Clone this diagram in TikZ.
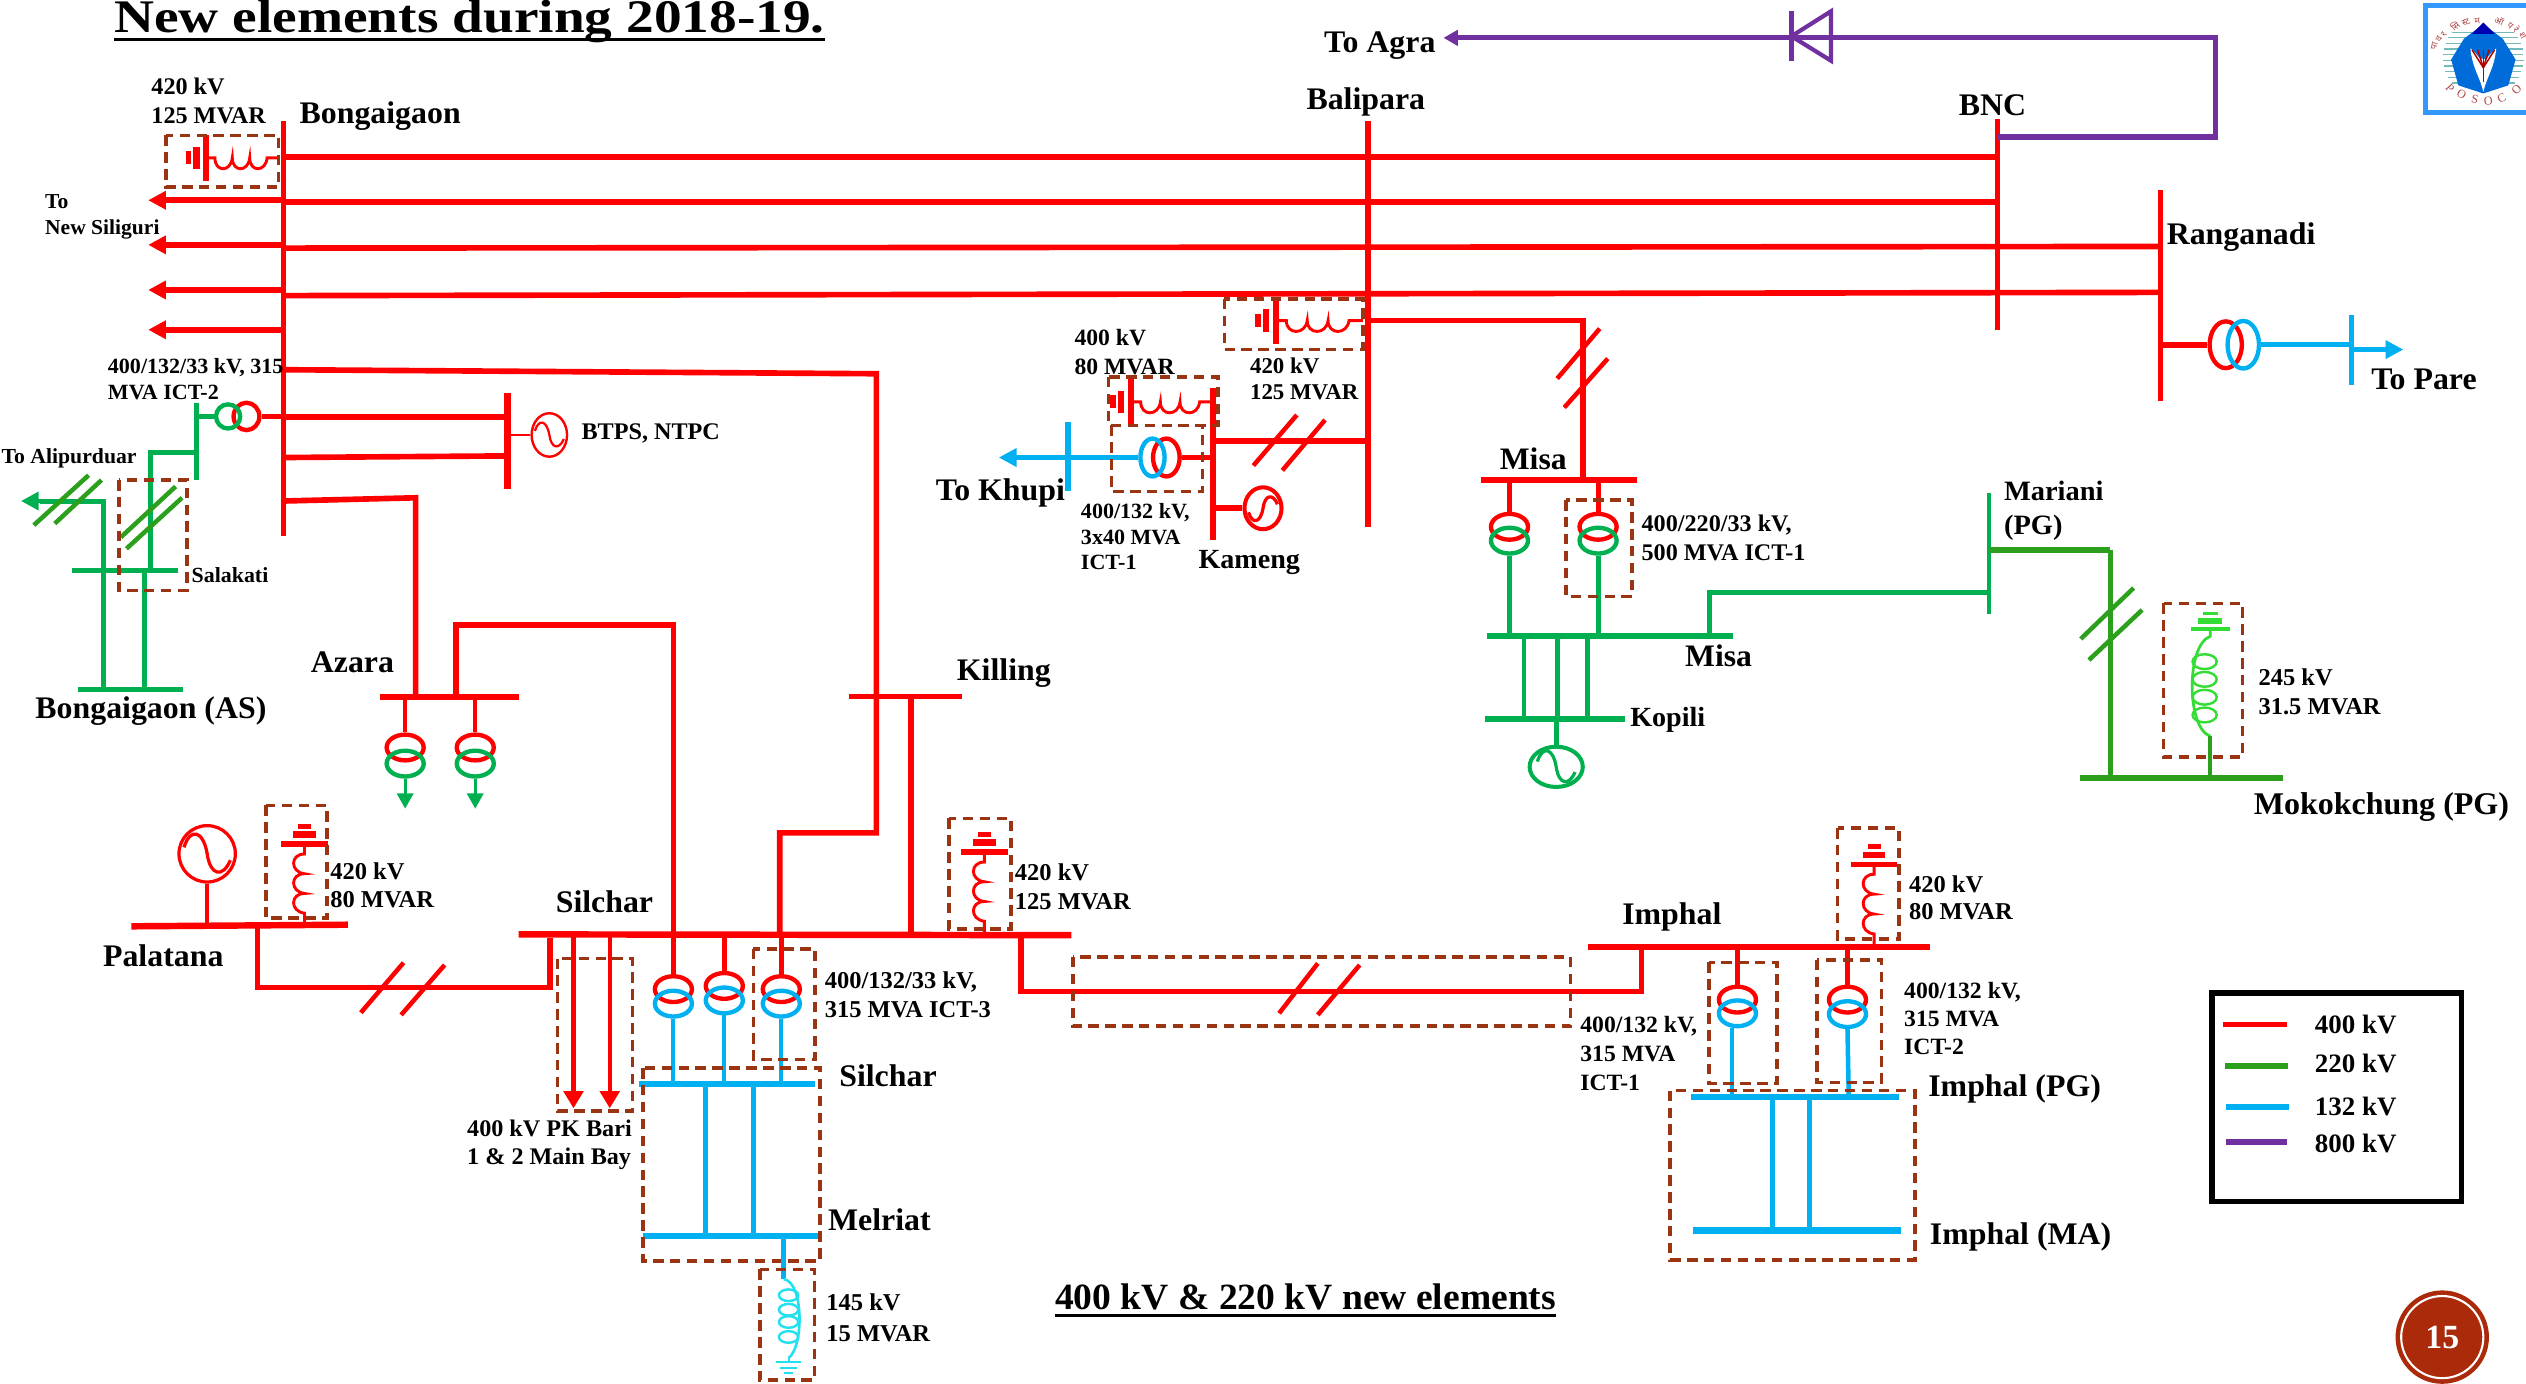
\documentclass[tikz,border=0pt]{standalone}
\usepackage{fontspec}
\setmainfont{Liberation Serif}
\newfontfamily\hindi[Script=Devanagari]{Noto Sans}
\usetikzlibrary{arrows.meta,shapes.geometric}
\definecolor{cred}{HTML}{FF0000}
\definecolor{cgrn}{HTML}{00B050}
\definecolor{cdgn}{HTML}{2CA01C}
\definecolor{cblu}{HTML}{00B0F0}
\definecolor{cpur}{HTML}{7030A0}
\definecolor{cbrn}{HTML}{9A3412}
\definecolor{cbgn}{HTML}{33DD33}
\definecolor{ccyn}{HTML}{22E0F0}
\definecolor{cbad}{HTML}{AA2A0A}
\definecolor{clogo}{HTML}{3399FF}
\definecolor{ctext}{HTML}{B04848}
\tikzset{
 x=1pt,y=-1pt,
 lab/.style={anchor=base west,inner sep=0pt,outer sep=0pt},
 rl/.style={draw=cred,line width=3.5},
 gl/.style={draw=cgrn,line width=3.1},
 dl/.style={draw=cdgn,line width=3.1},
 bl/.style={draw=cblu,line width=3.2},
 pl/.style={draw=cpur,line width=3.2},
 rslash/.style={draw=cred,line width=2.8},
 dslash/.style={draw=cdgn,line width=2.8},
 dbox/.style={draw=cbrn,line width=2.2,dash pattern=on 6.5pt off 4pt},
 tf/.style n args={3}{ellipse,draw=#1,minimum width=#2,minimum height=#3,inner sep=0pt,line width=2.7},
 gen/.style n args={4}{ellipse,draw=#1,minimum width=#2,minimum height=#3,inner sep=0pt,line width=#4},
 tipa/.style={-{Triangle[length=11pt,width=11pt]}},
}
\newcommand\lbl[6]{\node[lab,font={\fontsize{#4}{#5}\selectfont\bfseries}] (#1) at (#2,#3+0.7) {\scalebox{1.014}[1]{\begin{tabular}[t]{@{}l@{}}#6\end{tabular}}};}
% reactor with earth bars: x, y of main bar, rotation, coil length, colour
\newcommand\reac[5]{\begin{scope}[shift={(#1,#2)},rotate=#3]
 \draw[#5,line width=3.4] (-14.5,0) -- (14.5,0);
 \draw[#5,line width=3.8] (-7,-6) -- (7,-6);
 \draw[#5,line width=3.4] (-4,-11) -- (4,-11);
 \draw[#5,line width=1.8,yscale=#4/50] (0,0) -- (0,6) .. controls (-9,6) and (-9,17) .. (0,18) .. controls (-9,18) and (-9,29) .. (0,30) .. controls (-9,30) and (-9,41) .. (0,42) -- (0,50);
\end{scope}}
\newcommand\sq[4]{\draw[#2,line width=#3,shift={(#1)},xscale=#4,yscale=#4] (-.9,-.25) .. controls (-.65,-1.05) and (-.15,-.9) .. (0,0) .. controls (.12,.85) and (.6,.95) .. (.9,.25);}
\begin{document}
\begin{tikzpicture}
\path[use as bounding box,fill=white] (0,0) rectangle (1568,858.5);
% named bus positions
\coordinate (bong) at (176,75);
\coordinate (bali) at (849,75);
\coordinate (bnc) at (1240,74);
\coordinate (rang) at (1341,118);
\coordinate (btps) at (315,244);
\coordinate (azb) at (236,432.5);
\coordinate (kil) at (527,432.5);
\coordinate (pal) at (81.6,575);
\coordinate (sil) at (322,580);
\coordinate (imp) at (986,588);
\coordinate (kam) at (752.8,241);
\coordinate (msr) at (919,298);
\coordinate (msg) at (923,395);
\coordinate (kop) at (921.6,446.4);
\coordinate (mar) at (1234.6,306);
\coordinate (mok) at (1291,483);
\coordinate (silb) at (396.8,672.8);
\coordinate (mel) at (398.9,767);
\coordinate (impg) at (1049.7,681.2);
\coordinate (impm) at (1051,763.8);
\coordinate (salb) at (45,354);
\coordinate (asb) at (48.5,428);
\coordinate (bar132) at (122,250);
% vertical buses
\draw[rl] (bong) -- (176,333);
\draw[rl] (bali) -- (849,327);
\draw[rl] (bnc) -- (1240,205);
\draw[rl] (rang) -- (1341,249);
\draw[rl,line width=4.6] (btps) -- (315,303.6);
\draw[rl] (kam) -- (752.8,335);
% horizontal buses
\draw[rl,line width=4] (azb) -- (322,432.5);
\draw[rl,line width=3.4] (kil) -- (597,432.5);
\draw[rl,line width=4] (pal) -- (216,574);
\draw[rl,line width=4] (sil) -- (665,580.5);
\draw[rl,line width=4] (imp) -- (1198,588);
\draw[rl,line width=4] (msr) -- (1016,298);
\draw[gl,line width=3.6] (msg) -- (1076,395);
\draw[gl,line width=3.6] (kop) -- (1009,446.4);
\draw[gl,line width=2.4] (mar) -- (1234.6,381);
\draw[dl,line width=4] (mok) -- (1417,483);
\draw[bl,line width=3.8] (silb) -- (505.7,672.8);
\draw[bl,line width=3.8] (mel) -- (507.8,767);
\draw[bl,line width=3.8] (impg) -- (1178.8,681.2);
\draw[bl,line width=3.8] (impm) -- (1180,763.8);
\draw[gl] (salb) -- (110.5,354);
\draw[gl,line width=3.4] (asb) -- (113.7,428);
\draw[gl,line width=2.8] (bar132) -- (122,298);
% main 400 kV lines
\draw[rl] (bong |- 0,97.5) -- (bnc |- 0,97.5);
\draw[rl] (bong |- 0,125.5) -- (bnc |- 0,125.5);
\draw[rl] (bong |- 0,154) -- (rang |- 0,153);
\draw[rl] (bong |- 0,183.5) -- (rang |- 0,181.5);
\coordinate (ns1) at (92,124.3);
\coordinate (ns2) at (92,152);
\coordinate (ns3) at (92,180);
\coordinate (ns4) at (92,204.7);
\foreach \n in {ns1,ns2,ns3,ns4} \draw[rl,tipa] (bong |- \n) -- (\n);
% Bongaigaon to BTPS
\draw[rl] (bong |- 0,259) -- (btps |- 0,259);
\draw[rl] (bong |- 0,284) -- (btps |- 0,283);
\node[gen={cred}{22}{27}{1.5}] (g1) at (341,270) {};
\draw[cred,line width=1.6] (btps |- g1) -- (g1.west);
\sq{g1}{cred}{1.4}{10}
% ICT-2 at Bongaigaon
\node[tf={cred}{16}{17}] (ict2R) at (153,258.5) {};
\node[tf={cgrn}{15}{15}] (ict2G) at (141.6,258.5) {};
\draw[rl] (bong |- ict2R) -- (ict2R.east);
\draw[gl] (ict2G.west) -- (bar132 |- ict2G);
\draw[gl] (122,281) -- (93.7,281) -- (93.7,354);
\draw[gl] (64,428) -- (64,311) -- (25,311);
\draw[cgrn,line width=3,tipa] (25,311) -- (13,311);
\draw[gl] (89.6,354) -- (89.6,428);
\draw[dslash] (21,326) -- (55,295);
\draw[dslash] (34,325) -- (63,298);
\draw[dslash] (75,333.5) -- (109,302);
\draw[dslash] (78.5,340.6) -- (113,309);
\draw[dbox] (74,298) rectangle (116,366.6);
% reactor at Bongaigaon
\reac{128}{98}{90}{45}{cred}
\draw[dbox] (103,84) rectangle (173,116);
% Bongaigaon - Azara - Silchar
\draw[rl] (bong |- 0,311) -- (258,309) -- (258,0 |- azb);
\draw[rl] (283,0 |- azb) -- (283,388) -- (418,388) -- (418,0 |- sil);
\draw[rl] (bong |- 0,229.5) -- (544,232) -- (544,517) -- (484,517) -- (484,0 |- sil);
\draw[rl] (565.5,0 |- kil) -- (565.5,0 |- sil);
% Azara transformers
\node[tf={cred}{23}{16}] (az1R) at (251.5,464) {};
\node[tf={cgrn}{23}{16}] (az1G) at (251.5,474) {};
\node[tf={cred}{23}{16}] (az2R) at (295,464) {};
\node[tf={cgrn}{23}{16}] (az2G) at (295,474) {};
\draw[rl,line width=2.8] (az1R |- azb) -- (az1R.north);
\draw[rl,line width=2.8] (az2R |- azb) -- (az2R.north);
\draw[cgrn,line width=2,-{Triangle[length=9.5pt,width=10pt]}] (az1G.south) -- (251.5,502);
\draw[cgrn,line width=2,-{Triangle[length=9.5pt,width=10pt]}] (az2G.south) -- (295,502);
% Palatana
\node[gen={cred}{35}{35}{2}] (g2) at (128.6,530) {};
\sq{g2}{cred}{2}{16}
\draw[rl,line width=2.8] (g2.south) -- (g2 |- pal);
\reac{189}{524}{0}{51}{cred}
\draw[dbox] (165,500) rectangle (203,570);
\draw[rl] (159.8,575) -- (159.8,613) -- (341.5,613) -- (341.5,582);
\draw[rslash] (224,628.6) -- (250.5,597.6);
\draw[rslash] (249,630) -- (276,599);
% PK Bari
\draw[rl,line width=2.8,-{Triangle[length=10.7pt,width=12pt]}] (356,0 |- sil) -- (356,688);
\draw[rl,line width=2.8,-{Triangle[length=10.7pt,width=12pt]}] (378.5,0 |- sil) -- (378.5,688);
\draw[dbox] (346,595) rectangle (392.6,689.5);
% Silchar transformers
\node[tf={cred}{23}{16}] (s1R) at (418,614) {};
\node[tf={cblu}{23}{16}] (s1B) at (418,623) {};
\node[tf={cred}{23}{16}] (s2R) at (449.6,612) {};
\node[tf={cblu}{23}{16}] (s2B) at (449.6,621) {};
\node[tf={cred}{23}{16}] (s3R) at (485,614) {};
\node[tf={cblu}{23}{16}] (s3B) at (485,623) {};
\foreach \t in {1,2,3}{
 \draw[rl,line width=3] (s\t R |- sil) -- (s\t R.north);
 \draw[bl,line width=2.6] (s\t B.south) -- (s\t B |- silb);
}
\draw[dbox] (467.6,589) rectangle (506,657.7);
\draw[bl] (438,0 |- silb) -- (438,0 |- mel);
\draw[bl] (467.6,0 |- silb) -- (467.6,0 |- mel);
\draw[dbox] (399,663) rectangle (509,782.6);
% Melriat reactor
\draw[bl] (486.6,0 |- mel) -- (486.6,794);
\draw[ccyn,line width=1.6] (486.6,794) .. controls (499,796) and (499,836) .. (489.5,843);
\foreach \yy in {804,813,820.6,829.9} \draw[ccyn,line width=1.5] (489.5,\yy) ellipse (6 and 3.6);
\draw[ccyn,line width=1.3] (489.5,843) -- (489.5,845.5);
\draw[ccyn,line width=1.3] (481.5,845.5) -- (497.5,845.5);
\draw[ccyn,line width=1.3] (484,849) -- (495,849);
\draw[ccyn,line width=1.3] (486.5,852) -- (492.5,852);
\draw[dbox] (471.6,788) rectangle (505.7,856.6);
% Killing side reactor on Silchar bus
\reac{611}{529}{0}{51}{cred}
\draw[dbox] (589,508) rectangle (627.6,576.7);
% Silchar - Imphal
\draw[rl] (633.8,0 |- sil) -- (633.8,615.5) -- (1019,615.5) -- (1019,0 |- imp);
\draw[rslash] (794,629) -- (818,598);
\draw[rslash] (818,630) -- (844,599);
\draw[dbox] (666,594) rectangle (975,637);
% Imphal
\reac{1163.3}{536.5}{0}{51.5}{cred}
\draw[dbox] (1140.7,514) rectangle (1178.8,583);
\node[tf={cred}{23}{16}] (i1R) at (1078.5,620.5) {};
\node[tf={cblu}{23}{16}] (i1B) at (1078.5,629) {};
\node[tf={cred}{23}{16}] (i2R) at (1146.8,620.5) {};
\node[tf={cblu}{23}{16}] (i2B) at (1146.8,629.5) {};
\draw[rl,line width=2.8] (i1R |- imp) -- (i1R.north);
\draw[rl,line width=2.8] (i2R |- imp) -- (i2R.north);
\draw[bl,line width=2.8] (1075,0 |- i1B.south) -- (1075,0 |- impg);
\draw[bl,line width=2.8] (i2B.south) -- (1147.6,0 |- impg);
\draw[dbox] (1061,597.4) rectangle (1103,672.6);
\draw[dbox] (1127.8,595.9) rectangle (1168,672);
\draw[bl] (1100,0 |- impg) -- (1100,0 |- impm);
\draw[bl] (1123.3,0 |- impg) -- (1123.3,0 |- impm);
\draw[dbox] (1036.7,677) rectangle (1188.7,782);
% Balipara reactor and Misa link
\reac{792}{199}{90}{54}{cred}
\draw[dbox] (760,185.6) rectangle (846,217);
\draw[rl] (bali |- 0,199) -- (982.6,199) -- (982.6,0 |- msr);
\draw[rslash] (966.6,235) -- (993,204);
\draw[rslash] (971,253) -- (998,222.6);
% Kameng
\draw[rl,line width=3.8] (kam |- 0,273.7) -- (bali |- 0,273.7);
\draw[rslash] (778,289) -- (805,257.6);
\draw[rslash] (796,292) -- (822.5,260.7);
\reac{702}{249.5}{90}{50.8}{cred}
\draw[dbox] (688,234) rectangle (756,264);
\node[tf={cred}{16.5}{23.5}] (kR) at (724,284) {};
\node[tf={cblu}{15}{23.5}] (kB) at (715.4,284) {};
\draw[rl,line width=3.6] (kR.east) -- (kam |- kR);
\draw[bl] (kB.west) -- (663,284);
\draw[cblu,line width=3,tipa] (663,284) -- (620,284);
\draw[bl,line width=3.4] (663,261.8) -- (663,305);
\draw[dbox] (690,264) rectangle (746.5,305);
\node[gen={cred}{23}{26}{2.5}] (g3) at (784,315.5) {};
\draw[rl,line width=3.6] (kam |- g3) -- (g3.west);
\begin{scope}[yscale=-1,shift={(0,-631)}]\sq{784,315.5}{cred}{2}{10}\end{scope}
% Misa
\node[tf={cred}{23}{16}] (m1R) at (937,327) {};
\node[tf={cgrn}{23}{16}] (m1G) at (937,335.6) {};
\node[tf={cred}{23}{16}] (m2R) at (992,327) {};
\node[tf={cgrn}{23}{16}] (m2G) at (992,335.6) {};
\draw[rl,line width=3] (m1R |- msr) -- (m1R.north);
\draw[rl,line width=3] (m2R |- msr) -- (m2R.north);
\draw[gl,line width=3] (m1G.south) -- (m1G |- msg);
\draw[gl,line width=3] (m2G.south) -- (m2G |- msg);
\draw[dbox] (972,310.4) rectangle (1013,370.4);
\foreach \xx in {946,967,985.6} \draw[gl] (\xx,0 |- msg) -- (\xx,0 |- kop);
\node[gen={cgrn}{33}{25}{2.5}] (g4) at (966,476) {};
\draw[gl] (g4 |- kop) -- (g4.north);
\sq{g4}{cgrn}{2}{13}
% Misa - Mariani - Mokokchung
\draw[gl,line width=3.2] (1061,0 |- msg) -- (1061,367.6) -- (mar |- 0,367.6);
\draw[dl,line width=3.6] (mar |- 0,341.4) -- (1310,341.4);
\draw[dl] (1310,341.4) -- (1310,0 |- mok);
\draw[dslash] (1291.6,396.6) -- (1324.4,365);
\draw[dslash] (1296.7,409.7) -- (1329.7,378.6);
% Mokokchung reactor
\draw[cbgn,line width=2] (1360,390.4) -- (1384.5,390.4);
\draw[cbgn,line width=3.4] (1364.5,385.5) -- (1379.5,385.5);
\draw[cbgn,line width=1.6] (1367.5,381) -- (1376.5,381);
\draw[cbgn,line width=1.7] (1372,390.4) -- (1372,395) .. controls (1357,400) and (1357,452) .. (1372,457);
\foreach \yy in {410.7,421.7,432.8,443.8} \draw[cbgn,line width=1.5] (1368.5,\yy) ellipse (7.5 and 4.6);
\draw[dl,line width=2.6] (1372,457) -- (1372,0 |- mok);
\draw[dbox] (1343,374.5) rectangle (1392,470);
% Ranganadi
\node[tf={cred}{20}{29}] (rR) at (1381.6,214) {};
\node[tf={cblu}{19.5}{29.5}] (rB) at (1392.5,214) {};
\draw[rl] (rang |- rR) -- (rR.west);
\draw[bl] (rB.east) -- (1459.6,214);
\draw[bl,line width=3.4] (1459.6,195.5) -- (1459.6,239);
\draw[cblu,line width=3,tipa] (1459.6,217) -- (1491.8,217);
% HVDC
\draw[pl] (bnc |- 0,85) -- (1375,85) -- (1375,23.5) -- (1125,23.5);
\draw[cpur,line width=3.2,-{Triangle[length=9pt,width=9.5pt]}] (1125,23.5) -- (896,23.5);
\draw[cpur,line width=3] (1112,7) -- (1112,37.7);
\draw[cpur,line width=2.6] (1136.6,7) -- (1136.6,37.7) -- (1112,22.5) -- cycle;
% Legend
\draw[black,line width=3.5] (1373,616.4) rectangle (1528,745.8);
\draw[rl] (1380,636) -- (1419.4,636);
\draw[dl,line width=3.5] (1381,661.7) -- (1420,661.7);
\draw[bl,line width=3.5] (1382,687) -- (1421,687);
\draw[pl,line width=3.5] (1382,708.9) -- (1419.4,708.9);
% Texts
\node[lab,font={\fontsize{29}{29}\selectfont\bfseries}] (ttl) at (71,20) {\scalebox{1.185}[1]{New elements during 2018-19.}};
\draw[black,line width=1.6] (ttl.base west |- 0,24.6) -- (ttl.base east |- 0,24.6);
\lbl{sub}{655}{812}{23}{23}{400 kV \& 220 kV new elements}
\draw[black,line width=1.6] (sub.base west |- 0,816.5) -- (sub.base east |- 0,816.5);
\lbl{t1}{94}{58}{14.8}{18}{420 kV\\125 MVAR}
\lbl{t2}{186}{76}{19.5}{20}{Bongaigaon}
\lbl{t3}{28}{129}{13.2}{16}{To\\New Siliguri}
\lbl{t4}{1}{287}{13.3}{16}{To Alipurduar}
\lbl{t5}{67}{231}{13.5}{16}{400/132/33 kV, 315\\MVA ICT-2}
\lbl{t6}{361}{272}{14.8}{16}{BTPS, NTPC}
\lbl{t7}{119}{361}{13.4}{16}{Salakati}
\lbl{t8}{22}{445}{19.5}{20}{Bongaigaon (AS)}
\lbl{t9}{193}{417}{19.5}{20}{Azara}
\lbl{t10}{594}{422}{19.5}{20}{Killing}
\lbl{t11}{811}{67}{19.5}{20}{Balipara}
\lbl{t12}{822}{32}{19.5}{20}{To Agra}
\lbl{t13}{1216}{71}{19.5}{20}{BNC}
\lbl{t14}{1345}{151}{19.5}{20}{Ranganadi}
\lbl{t15}{1472}{241}{19.5}{20}{To Pare}
\lbl{t16}{581}{310}{19.5}{20}{To Khupi}
\lbl{t17}{744}{352}{17.2}{20}{Kameng}
\lbl{t18}{931}{291}{19.4}{20}{Misa}
\lbl{t19}{1046}{413}{19.4}{20}{Misa}
\lbl{t20}{1012}{450}{17.2}{20}{Kopili}
\lbl{t21}{1244}{310}{17.4}{21}{Mariani\\(PG)}
\lbl{t22}{1399}{505}{19.6}{20}{Mokokchung (PG)}
\lbl{t23}{1402}{425}{15}{18}{245 kV\\31.5 MVAR}
\lbl{t24}{1019}{329}{14.8}{18}{400/220/33 kV,\\500 MVA ICT-1}
\lbl{t25}{667}{214}{14.5}{18}{400 kV\\80 MVAR}
\lbl{t26}{776}{231}{14}{16.5}{420 kV\\125 MVAR}
\lbl{t27}{671}{321}{13.5}{16}{400/132 kV,\\3x40 MVA\\ICT-1}
\lbl{t28}{205}{545}{15}{17.5}{420 kV\\80 MVAR}
\lbl{t29}{630}{546}{15}{18}{420 kV\\125 MVAR}
\lbl{t30}{345}{566}{19.5}{20}{Silchar}
\lbl{t31}{64}{599}{19.5}{20}{Palatana}
\lbl{t32}{512}{613}{15}{18}{400/132/33 kV,\\315 MVA ICT-3}
\lbl{t33}{521}{674}{19.5}{20}{Silchar}
\lbl{t34}{290}{705}{14.8}{17}{400 kV PK Bari\\1 \& 2 Main Bay}
\lbl{t35}{514}{763}{19.5}{20}{Melriat}
\lbl{t36}{513}{813}{15}{19}{145 kV\\15 MVAR}
\lbl{t37}{1007}{573}{19.5}{20}{Imphal}
\lbl{t38}{1185}{553}{15}{17}{420 kV\\80 MVAR}
\lbl{t39}{981}{640}{14.5}{18}{400/132 kV,\\315 MVA\\ICT-1}
\lbl{t40}{1182}{619}{14.5}{17.5}{400/132 kV,\\315 MVA\\ICT-2}
\lbl{t41}{1197}{680}{19.5}{20}{Imphal (PG)}
\lbl{t42}{1198}{772}{19.5}{20}{Imphal (MA)}
\lbl{t43}{1437}{641}{16.5}{20}{400 kV}
\lbl{t44}{1437}{665}{16.5}{20}{220 kV}
\lbl{t45}{1437}{692}{16.5}{20}{132 kV}
\lbl{t46}{1437}{715}{16.5}{20}{800 kV}
% page number
\node[circle,fill=cbad,minimum size=58,inner sep=0pt] (pgc) at (1516,830) {};
\node[circle,draw=white,line width=1.3,minimum size=51,inner sep=0pt] (pgr) at (1516,830) {};
\node[text=white,font={\fontsize{21}{21}\selectfont\bfseries},inner sep=0pt] (pgn) at (1516,830) {15};
% logo
\draw[draw=clogo,line width=3.2] (1505.5,3.3) rectangle (1575,70);
\begin{scope}[shift={(1541.5,36)}]
 \foreach \yy in {-16,-12.5,...,18.5}{
  \pgfmathsetmacro\hw{sqrt(max(0,25*25-\yy*\yy))}
  \draw[teal!55!white,line width=.8] (-\hw,\yy) -- (\hw,\yy);
 }
 \fill[blue!50!cyan!85!black] (0,-21) -- (12,-12) -- (20,1) -- (15.5,17) -- (0,22) -- (-15.5,17) -- (-20,1) -- (-12,-12) -- cycle;
 \fill[white] (-8,-6) .. controls (-3,-2) and (-1,4) .. (0,-1) .. controls (1,4) and (3,-2) .. (8,-6) .. controls (7,6) and (2,12) .. (0,21) .. controls (-2,12) and (-7,6) .. (-8,-6) -- cycle;
 \foreach \a in {-7,-3.5,0,3.5,7} \draw[red!70!black,line width=.9] (0,6) -- (\a,-5);
 \draw[red!70!black,line width=.8] (0,6) -- (0,15);
 \fill[blue!70!black] (0,-22) -- (7,-15) -- (-7,-15) -- cycle;
 \foreach \s/\xx/\yy/\r in {P/-20.7/18.6/-48,O/-13.5/22.8/-30,S/-5.2/25.9/-11,O/3/26.5/6,C/11.4/24.8/25,O/20.7/19.7/46}
  \node[text=ctext,font={\fontsize{7.5}{7.5}\selectfont},inner sep=0pt,rotate=\r] at (\xx,\yy) {\s};
 \foreach \s/\xx/\yy/\r in {पा/-30.4/-7.2/75,व/-27.5/-11.8/65,र/-24.4/-14.9/58,सि/-17.6/-20/41,स्ट/-10.8/-22/26,म/-3.7/-22.8/9,ऑ/9.9/-23.4/-23,प/16.6/-20/-40,रे/20.7/-17.6/-50,श/24.4/-13.5/-60}
  \node[text=ctext,font={\hindi\fontsize{5.6}{5.6}\selectfont},inner sep=0pt,rotate=\r] at (\xx,\yy) {\s};
\end{scope}
\end{tikzpicture}
\end{document}
